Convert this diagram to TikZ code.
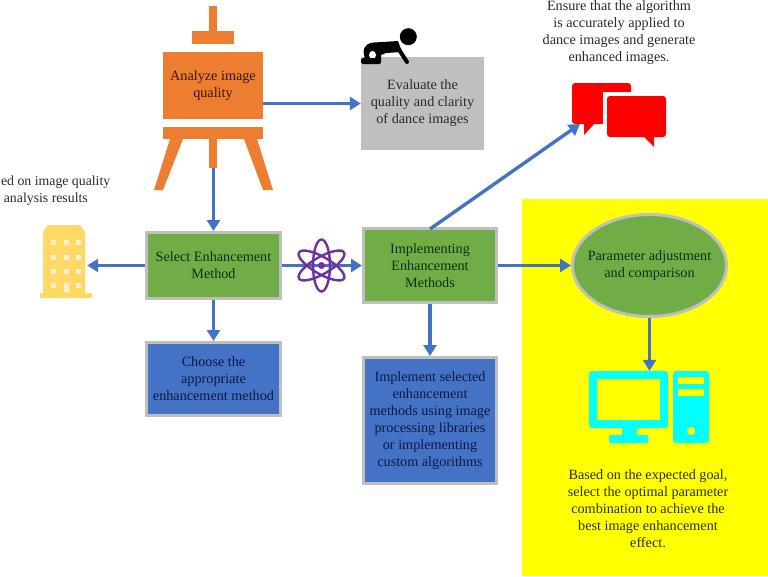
\documentclass[tikz,border=0pt]{standalone}
\usepackage{fontspec}
\setmainfont{Liberation Serif}
\usetikzlibrary{arrows.meta,shapes.geometric}
\definecolor{arrowblue}{HTML}{4472C4}
\definecolor{easel}{HTML}{ED7D31}
\definecolor{boxgreen}{HTML}{70AD47}
\definecolor{edgegrey}{HTML}{BFBFBF}
\definecolor{bubble}{HTML}{FF0000}
\definecolor{tower}{HTML}{00FFFF}
\definecolor{panel}{HTML}{FFFF00}
\definecolor{bldg}{HTML}{FFD966}
\definecolor{bldgwin}{HTML}{FFF2CC}
\definecolor{atomc}{HTML}{7030A0}
\definecolor{inkgreen}{HTML}{0F3010}
\definecolor{inkblue}{HTML}{0B1A48}
\definecolor{inkorange}{HTML}{3A1600}
\definecolor{inkgrey}{HTML}{2A2A2A}
\definecolor{inkyellow}{HTML}{2E2E00}
\tikzset{
  txt/.style={align=center,inner sep=0pt,font=\fontsize{14.2}{17}\selectfont},
  sidetxt/.style={txt,text=inkgrey,anchor=east,font=\fontsize{13.8}{17}\selectfont},
  box/.style={txt,rectangle,line width=3pt,draw=edgegrey},
  greenbox/.style={box,fill=boxgreen,text=inkgreen},
  bluebox/.style={box,fill=arrowblue,text=inkblue},
  flow/.style={line width=3.4pt,draw=arrowblue,-{Triangle[length=11pt,width=13pt]}},
}
\begin{document}
\begin{tikzpicture}[x=1pt,y=-1pt]
\useasboundingbox (0,0) rectangle (768,576);
% yellow panel
\fill[panel] (522,199) rectangle (768,576);

% easel
\fill[easel] (209,6) rectangle (217,32);
\fill[easel] (192,31) rectangle (234,44);
\fill[easel] (163,127) rectangle (263,139);
\fill[easel] (209,139) rectangle (217,168);
\fill[easel] (170,139) -- (183,139) -- (163,190) -- (154,190) -- cycle;
\fill[easel] (244,139) -- (257,139) -- (273,190) -- (263,190) -- cycle;
\node[txt,rectangle,fill=easel,text=inkorange,minimum width=100pt,minimum height=67pt] (canvas) at (213,85.5) {Analyze image\\quality};
\coordinate (easelfoot) at (213,168);

% boxes
\node[txt,rectangle,fill=edgegrey,text=inkgrey,minimum width=123pt,minimum height=93pt] (grey) at (422.5,103.5) {Evaluate the\\quality and clarity\\of dance images};
\node[greenbox,minimum width=134pt,minimum height=66pt] (select) at (213.5,265.5) {Select Enhancement\\Method};
\node[greenbox,minimum width=133pt,minimum height=74pt] (impl) at (430,265.5) {Implementing\\Enhancement\\Methods};
\node[bluebox,minimum width=134pt,minimum height=73pt] (choose) at (213.5,379) {Choose the\\appropriate\\enhancement method};
\node[bluebox,minimum width=133pt,minimum height=126pt] (implbox) at (430,420.5) {Implement selected\\enhancement\\methods using image\\processing libraries\\or implementing\\custom algorithms};
\node[box,ellipse,inner sep=0pt,fill=boxgreen,minimum width=154pt,minimum height=102pt] (param) at (649.5,265.5) {};
\node[txt,text=inkgreen] (paramtext) at (param.center) {Parameter adjustment\\and comparison};

% building
\node[inner sep=0pt,minimum width=44pt,minimum height=72pt] (building) at (65,262) {};
\fill[bldg] (40,298) -- (40,293) -- (43,293) -- (43,232) -- (48,225) -- (80,225) -- (85,232) -- (85,293) -- (92,293) -- (92,298) -- cycle;
\foreach \yy in {242,257,271,285}
  \foreach \xx in {53,78}
    \fill[bldgwin] (\xx-2.5,\yy-2.5) rectangle (\xx+2.5,\yy+2.5);
\foreach \yy in {242,257,271}
  \fill[bldgwin] (63.5,\yy-2.5) rectangle (68.5,\yy+2.5);
\fill[bldgwin] (63.5,283) rectangle (68.5,292);

% chat bubbles
\coordinate (chat) at (580,124);
\fill[bubble,rounded corners=3pt] (572,83) -- (631,83) -- (631,124) -- (572,124) -- cycle;
\fill[bubble] (584,122) -- (584,135) -- (596,122) -- cycle;
\fill[white,rounded corners=5pt] (603,92) rectangle (670,141);
\fill[white] (631,92) rectangle (603,125);
\fill[bubble,rounded corners=3pt] (607,96) rectangle (666,137);
\fill[bubble] (642,135) -- (654,147) -- (654,135) -- cycle;

% computer
\node[rectangle,inner sep=0pt,fill=tower,rounded corners=3pt,minimum width=79pt,minimum height=57pt] (monitor) at (628.5,399.5) {};
\fill[panel] (597,379) rectangle (660,420);
\fill[tower] (622,428) rectangle (637,436);
\fill[tower,rounded corners=1.5pt] (609,435) rectangle (648,443);
\fill[tower,rounded corners=3pt] (673,371) rectangle (709,443);
\fill[panel] (678,377) rectangle (704,384);
\fill[panel] (678,389) rectangle (704,396);
\fill[panel] (691,431) circle (4);

% connectors
\draw[flow] (canvas.east |- grey.west) -- (grey.west);
\draw[flow] (select.north |- easelfoot) -- (select.north);
\draw[flow] (select.west) -- (building.east |- select.west);
\draw[flow] (select.east) -- (impl.west);
\draw[flow] (select.south) -- (choose.north);
\draw[flow] (impl.south) -- (implbox.north);
\draw[flow] (impl.east) -- (param.west);
\draw[flow] (param.south) -- (param.south |- monitor.north);
\draw[flow] (impl.north) ++(0,2) -- (chat);

% atom
\node[circle,fill=atomc,inner sep=0pt,minimum size=7pt] (atom) at (321.5,265.5) {};
\foreach \ang in {0,60,120}
  \draw[atomc,line width=2.4pt,rotate around={\ang:(atom.center)}] (atom.center) ellipse (8.5 and 26);

% baby
\fill (408.3,36.7) circle (8.5);
\fill (363.5,52) .. controls (364,45) and (369,42.5) .. (374,42.5) -- (398,41) -- (402,52) -- (386,53) -- (381,55) -- (381,60) -- (365,60) -- cycle;
\draw[line width=4pt,line cap=round] (398,48) -- (407,62);
\fill[white] (372.5,55) ellipse (3.5 and 4);
\fill[rounded corners=1.5pt] (361,58) rectangle (381,64);

% texts
\node[txt,text=inkgrey] (ensure) at (619,32.5) {Ensure that the algorithm\\is accurately applied to\\dance images and generate\\enhanced images.};
\node[sidetxt] (sideA) at (110.5,182) {ed on image quality};
\node[sidetxt] (sideB) at (88,199) {analysis results};
\node[txt,text=inkyellow] (goal) at (648,509) {Based on the expected goal,\\select the optimal parameter\\combination to achieve the\\best image enhancement\\effect.};
\end{tikzpicture}
\end{document}
